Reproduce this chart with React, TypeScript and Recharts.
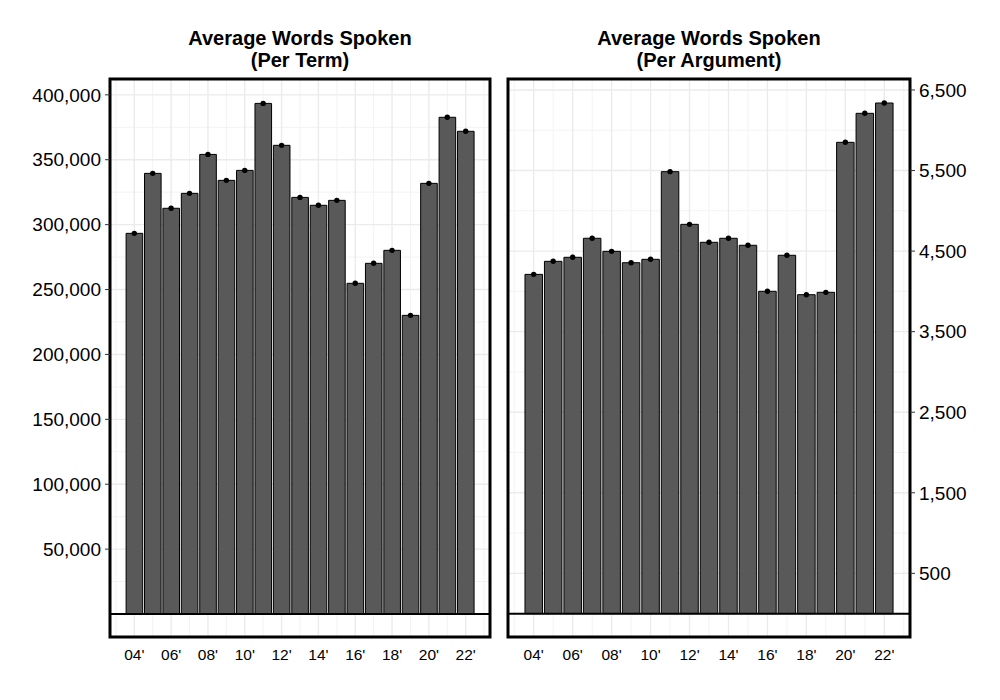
import { Bar, CartesianGrid, ComposedChart, Line, ReferenceArea, ReferenceLine, XAxis, YAxis } from "recharts";

const YEARS = [2004, 2005, 2006, 2007, 2008, 2009, 2010, 2011, 2012, 2013, 2014, 2015, 2016, 2017, 2018, 2019, 2020, 2021, 2022];
const PER_TERM = [293300, 339500, 312600, 324100, 354100, 334100, 341800, 393400, 361100, 321000, 314900, 318700, 254800, 270200, 280200, 230100, 331800, 382700, 371900];
const PER_ARGUMENT = [4211, 4373, 4423, 4659, 4497, 4356, 4398, 5486, 4832, 4609, 4659, 4572, 4001, 4448, 3959, 3988, 5850, 6210, 6338];

const X_TICKS = [2004, 2006, 2008, 2010, 2012, 2014, 2016, 2018, 2020, 2022];
const X_MINOR = [2003, 2005, 2007, 2009, 2011, 2013, 2015, 2017, 2019, 2021, 2023];
const TERM_TICKS = [50000, 100000, 150000, 200000, 250000, 300000, 350000, 400000];
const TERM_MINOR = [25000, 75000, 125000, 175000, 225000, 275000, 325000, 375000];
const ARG_TICKS = [500, 1500, 2500, 3500, 4500, 5500, 6500];
const ARG_MINOR = [1000, 2000, 3000, 4000, 5000, 6000];

const X_DOMAIN: [number, number] = [2002.68, 2023.32];
const FONT = "Arial, 'Liberation Sans', sans-serif";

const termData = YEARS.map((year, i) => ({ year, v: PER_TERM[i] }));
const argData = YEARS.map((year, i) => ({ year, v: PER_ARGUMENT[i] }));

const fmtYear = (y: number) => `${String(y).slice(2)}'`;
const fmtNum = (n: number) => n.toLocaleString("en-US");

function Panel({ data, yDomain, yTicks, yMinor, side, barSize }: {
  data: { year: number; v: number }[];
  yDomain: [number, number];
  yTicks: number[];
  yMinor: number[];
  side: "left" | "right";
  barSize: number;
}) {
  const margin = side === "left"
    ? { top: 79, right: 10, bottom: 33, left: 0 }
    : { top: 79, right: 0, bottom: 33, left: 8 };
  return (
    <ComposedChart width={500} height={700} data={data} margin={margin}>
      <CartesianGrid stroke="#f3f3f3" strokeWidth={1} horizontalValues={yMinor} verticalValues={X_MINOR} />
      <CartesianGrid stroke="#ebebeb" strokeWidth={1.4} horizontalValues={yTicks} verticalValues={X_TICKS} />
      <XAxis
        dataKey="year" type="number" domain={X_DOMAIN} ticks={X_TICKS} interval={0}
        tickFormatter={fmtYear} axisLine={false} tickLine={false} tickSize={0} tickMargin={12} height={30}
        tick={{ fill: "#000", fontSize: 15.5, fontFamily: FONT }}
      />
      <YAxis
        orientation={side} type="number" domain={yDomain} ticks={yTicks} interval={0}
        tickFormatter={fmtNum} axisLine={false} tickLine={{ stroke: "#333" }} tickSize={5} tickMargin={4}
        width={side === "left" ? 110 : 90} allowDataOverflow
        tick={{ fill: "#000", fontSize: 19, fontFamily: FONT }}
      />
      <Bar dataKey="v" fill="#595959" stroke="#000" strokeWidth={1} barSize={barSize} isAnimationActive={false} />
      <Line dataKey="v" stroke="none" dot={{ r: 2.7, fill: "#000", stroke: "none" }} activeDot={false} isAnimationActive={false} />
      <ReferenceLine y={0} stroke="#000" strokeWidth={2} />
      <ReferenceArea x1={X_DOMAIN[0]} x2={X_DOMAIN[1]} y1={yDomain[0]} y2={yDomain[1]} fill="none" stroke="#000" strokeWidth={3} ifOverflow="visible" />
    </ComposedChart>
  );
}

const titleStyle = (left: number): React.CSSProperties => ({
  position: "absolute", top: 27, left, width: 400, textAlign: "center",
  fontFamily: FONT, fontWeight: "bold", fontSize: 20, lineHeight: "22px", color: "#000",
});

export default function App() {
  return (
    <div style={{ position: "absolute", left: 0, top: 0, width: 1000, height: 700, background: "#fff" }}>
      <div style={{ position: "absolute", left: 0, top: 0 }}>
        <Panel data={termData} yDomain={[-17700, 412200]} yTicks={TERM_TICKS} yMinor={TERM_MINOR} side="left" barSize={16.6} />
      </div>
      <div style={{ position: "absolute", left: 500, top: 0 }}>
        <Panel data={argData} yDomain={[-290, 6636]} yTicks={ARG_TICKS} yMinor={ARG_MINOR} side="right" barSize={17.5} />
      </div>
      <div style={titleStyle(100)}>Average Words Spoken<br />(Per Term)</div>
      <div style={titleStyle(509)}>Average Words Spoken<br />(Per Argument)</div>
    </div>
  );
}
